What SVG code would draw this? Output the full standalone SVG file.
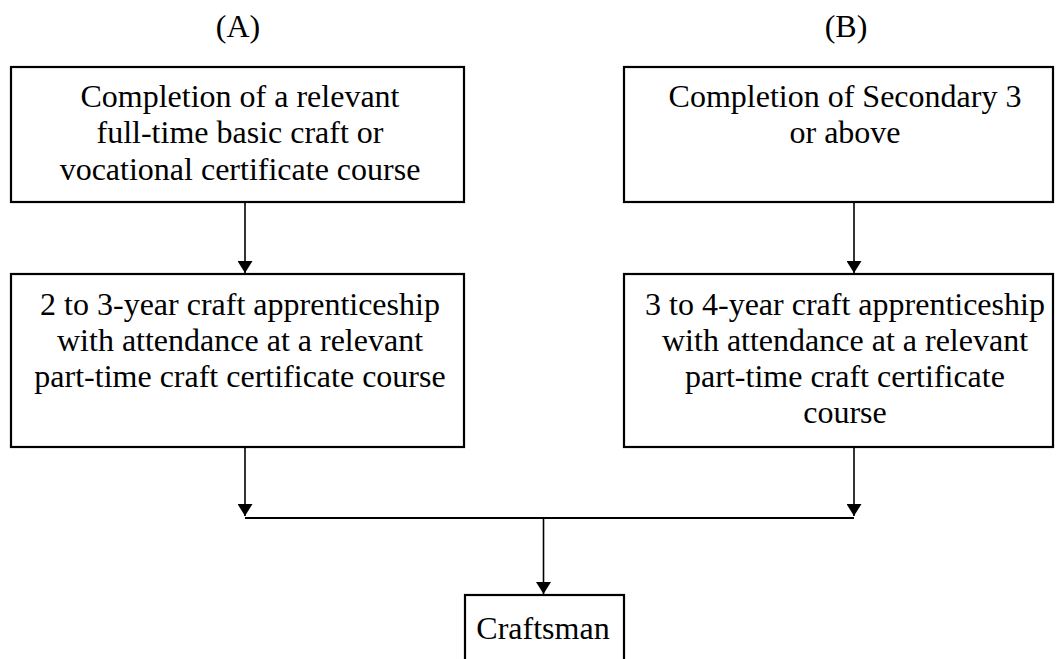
<svg xmlns="http://www.w3.org/2000/svg" width="1059" height="659" viewBox="0 0 1059 659">
<style>
.box{fill:#fff;stroke:#000;stroke-width:2.2}
.t{font-family:"Liberation Serif","Times New Roman",serif;font-size:32px;fill:#000;text-anchor:middle}
.ln{stroke:#000;stroke-width:1.6;fill:none}
</style>
<defs>
<marker id="ah" markerWidth="12" markerHeight="15" refX="12" refY="7.5" orient="auto" markerUnits="userSpaceOnUse">
<path d="M0,0 L12,7.5 L0,15 Z" fill="#000"/>
</marker>
</defs>
<rect width="1059" height="659" fill="#fff"/>
<g id="labelA"><text class="t" x="238" y="37">(A)</text></g>
<g id="labelB"><text class="t" x="846" y="37">(B)</text></g>
<g id="a1">
<rect class="box" x="11" y="67" width="453" height="135"/>
<text class="t" x="240" y="107">Completion of a relevant</text>
<text class="t" x="240" y="143">full-time basic craft or</text>
<text class="t" x="240" y="180">vocational certificate course</text>
</g>
<g id="b1">
<rect class="box" x="624" y="67" width="429" height="135"/>
<text class="t" x="845" y="107">Completion of Secondary 3</text>
<text class="t" x="845" y="143">or above</text>
</g>
<g id="a2">
<rect class="box" x="11" y="274" width="453" height="173"/>
<text class="t" x="240" y="315">2 to 3-year craft apprenticeship</text>
<text class="t" x="240" y="351">with attendance at a relevant</text>
<text class="t" x="240" y="387">part-time craft certificate course</text>
</g>
<g id="b2">
<rect class="box" x="624" y="274" width="429" height="173"/>
<text class="t" x="845" y="315">3 to 4-year craft apprenticeship</text>
<text class="t" x="845" y="351">with attendance at a relevant</text>
<text class="t" x="845" y="387">part-time craft certificate</text>
<text class="t" x="845" y="423">course</text>
</g>
<g id="craftsman">
<rect class="box" x="465" y="595" width="159" height="80"/>
<text class="t" x="543" y="639">Craftsman</text>
</g>
<g id="connectors">
<line class="ln" x1="245" y1="202" x2="245" y2="273" marker-end="url(#ah)"/>
<line class="ln" x1="854" y1="202" x2="854" y2="273" marker-end="url(#ah)"/>
<line class="ln" x1="245" y1="447" x2="245" y2="516" marker-end="url(#ah)"/>
<line class="ln" x1="854" y1="447" x2="854" y2="516" marker-end="url(#ah)"/>
<line x1="245" y1="518" x2="854" y2="518" stroke="#000" stroke-width="2.2"/>
<line class="ln" x1="543.5" y1="518" x2="543.5" y2="594" marker-end="url(#ah)"/>
</g>
</svg>
